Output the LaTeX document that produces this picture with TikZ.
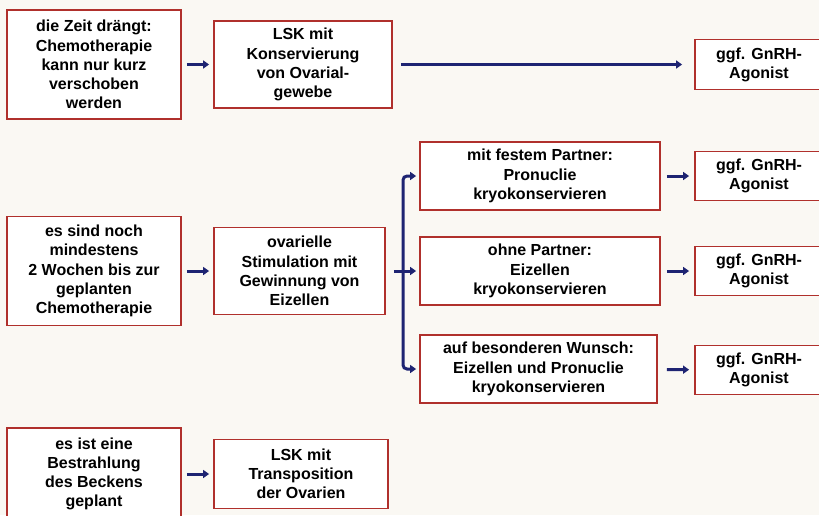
\documentclass[tikz,border=0pt]{standalone}
\usepackage{fontspec}
\setmainfont{Liberation Sans}
\usetikzlibrary{arrows.meta}
\definecolor{boxred}{HTML}{B0302C}
\definecolor{arrowblue}{HTML}{1E2472}
\definecolor{paper}{HTML}{FAF8F3}
\begin{document}
\begin{tikzpicture}[x=1pt,y=-1pt,
    box/.style={draw=boxred,line width=1.8pt,fill=white,align=center,inner sep=0pt,
      font=\fontsize{16}{19.2}\selectfont\bfseries},
    arr/.style={arrowblue,line width=3pt,-{Triangle[length=6pt,width=8pt]}}]
  \useasboundingbox (0,0) rectangle (819,515);
  \fill[paper] (0,0) rectangle (819,515);

  % first row
  \node[box,minimum width=174pt,minimum height=109pt] (zeit)   at (94,64.5)  {die Zeit drängt:\\Chemotherapie\\kann nur kurz\\verschoben\\werden};
  \node[box,minimum width=178pt,minimum height=87pt]  (lskova) at (303,64.5) {LSK mit\\Konservierung\\von Ovarial-\\gewebe};
  \node[box,minimum width=128pt,minimum height=50pt]  (gnrha)  at (759,64.5) {ggf. GnRH-\\Agonist};

  % second row
  \node[box,minimum width=174pt,minimum height=109pt] (wochen) at (94,271)    {es sind noch\\mindestens\\2 Wochen bis zur\\geplanten\\Chemotherapie};
  \node[box,minimum width=171pt,minimum height=87pt]  (stim)   at (299.5,271) {ovarielle\\Stimulation mit\\Gewinnung von\\Eizellen};
  \node[box,minimum width=240pt,minimum height=68pt]  (fest)   at (540,176)   {mit festem Partner:\\Pronuclie\\kryokonservieren};
  \node[box,minimum width=240pt,minimum height=68pt]  (ohne)   at (540,271)   {ohne Partner:\\Eizellen\\kryokonservieren};
  \node[box,minimum width=237pt,minimum height=68pt]  (wunsch) at (538.5,369) {auf besonderen Wunsch:\\Eizellen und Pronuclie\\kryokonservieren};
  \node[box,minimum width=128pt,minimum height=49pt]  (gnrhb)  at (759,176)   {ggf. GnRH-\\Agonist};
  \node[box,minimum width=128pt,minimum height=49pt]  (gnrhc)  at (759,271)   {ggf. GnRH-\\Agonist};
  \node[box,minimum width=128pt,minimum height=49pt]  (gnrhd)  at (759,370)   {ggf. GnRH-\\Agonist};

  % third row
  \node[box,minimum width=174pt,minimum height=92pt]  (becken) at (94,474)  {es ist eine\\Bestrahlung\\des Beckens\\geplant};
  \node[box,minimum width=174pt,minimum height=69pt]  (lsktr)  at (301,474) {LSK mit\\Transposition\\der Ovarien};

  \coordinate (split) at (403,271);

  \draw[arr,shorten <=5pt,shorten >=4pt]  (zeit) -- (lskova);
  \draw[arr,shorten <=8pt,shorten >=12pt] (lskova) -- (gnrha);
  \draw[arr,shorten <=5pt,shorten >=4pt]  (wochen) -- (stim);
  \draw[arr,shorten <=8pt,shorten >=3pt]  (stim) -- (ohne);
  \draw[arr,rounded corners=4pt,shorten >=3pt] (split) |- (fest);
  \draw[arr,rounded corners=4pt,shorten >=3pt] (split) |- (wunsch);
  \draw[arr,shorten <=6pt,shorten >=5pt]  (fest) -- (gnrhb);
  \draw[arr,shorten <=6pt,shorten >=5pt]  (ohne) -- (gnrhc);
  \draw[arr,shorten <=9pt,shorten >=5pt]  (wunsch) -- (gnrhd);
  \draw[arr,shorten <=5pt,shorten >=4pt]  (becken) -- (lsktr);
\end{tikzpicture}
\end{document}
